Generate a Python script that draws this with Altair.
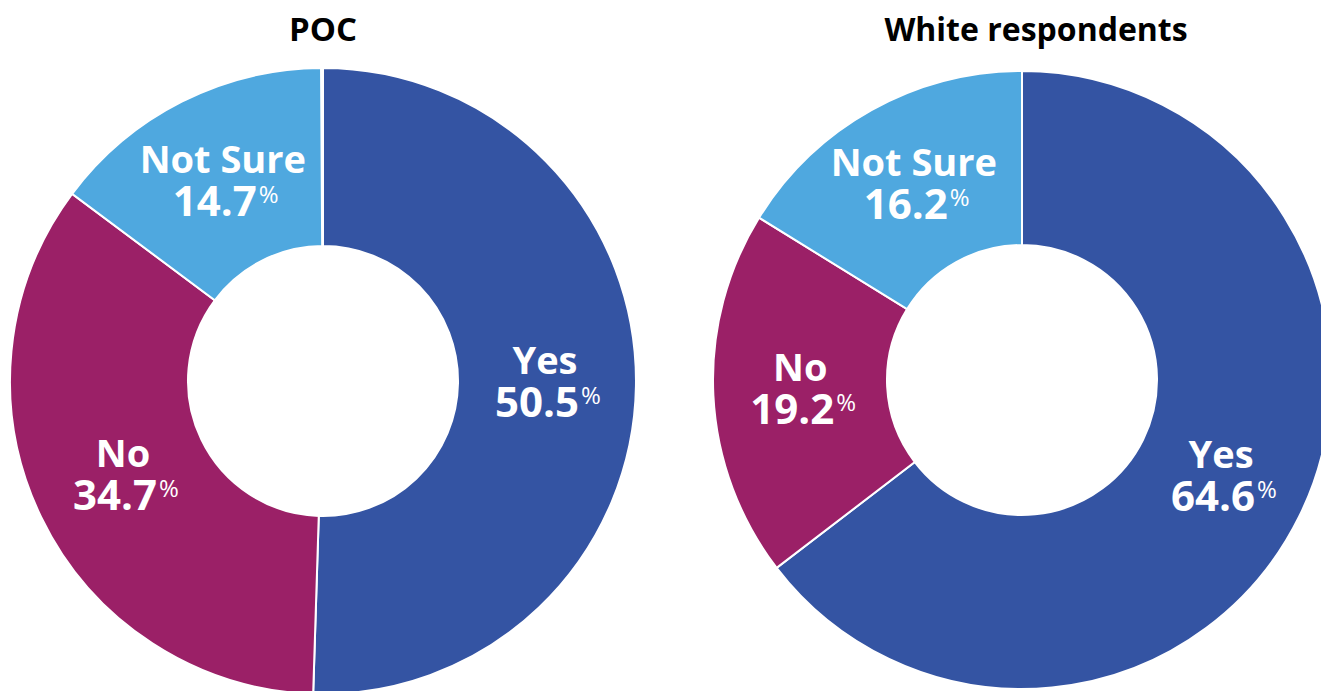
import altair as alt
import pandas as pd

answers = ["Yes", "No", "Not Sure"]
poc_values = [50.5, 34.7, 14.7]
white_values = [64.6, 19.2, 16.2]
titles = ["POC", "White respondents"]
colors = ["#3454A3", "#9B2067", "#4FA8DF"]

FONT = "Open Sans"

poc = pd.DataFrame({"answer": answers, "value": poc_values, "idx": [0, 1, 2]})
white = pd.DataFrame({"answer": answers, "value": white_values, "idx": [0, 1, 2]})

color = alt.Color("answer:N", scale=alt.Scale(domain=answers, range=colors), legend=None)


def donut(df, cx, cy, outer, inner, label_r):
    base = alt.Chart(df).encode(
        theta=alt.Theta("value:Q", stack=True),
        order=alt.Order("idx:Q"),
        x=alt.value(cx),
        y=alt.value(cy),
    )
    arc = base.mark_arc(innerRadius=inner, outerRadius=outer, stroke="white", strokeWidth=2).encode(color=color)
    cat = base.mark_text(radius=label_r, dy=-10, baseline="alphabetic", align="center",
                         font=FONT, fontSize=38, fontWeight="bold", color="white").encode(text="answer:N")
    num = base.mark_text(radius=label_r, dx=34, dy=33, baseline="alphabetic", align="right",
                         font=FONT, fontSize=42, fontWeight="bold", color="white").encode(
        text=alt.Text("value:Q", format=".1f"))
    pct = base.mark_text(radius=label_r, dx=36, dy=20, baseline="alphabetic", align="left",
                         font=FONT, fontSize=24, fontWeight="normal", color="white").encode(
        text=alt.value("%"))
    return [arc, cat, num, pct]


title_df = pd.DataFrame({"title": titles})
t1 = alt.Chart(title_df.iloc[[0]]).mark_text(font=FONT, fontSize=33, fontWeight="bold", color="black",
                                               baseline="alphabetic").encode(
    text="title:N", x=alt.value(315), y=alt.value(33))
t2 = alt.Chart(title_df.iloc[[1]]).mark_text(font=FONT, fontSize=32, fontWeight="bold", color="black",
                                               baseline="alphabetic").encode(
    text="title:N", x=alt.value(1028), y=alt.value(33))

layers = donut(poc, 315, 373, 313, 135, 222) + donut(white, 1014, 372, 309, 135, 222) + [t1, t2]

chart = alt.layer(*layers).properties(
    width=1313, height=683,
    autosize=alt.AutoSizeParams(type="none"),
    padding=0,
).configure_view(stroke=None)

chart.save("out.html", embed_options={"renderer": "svg", "actions": False})
